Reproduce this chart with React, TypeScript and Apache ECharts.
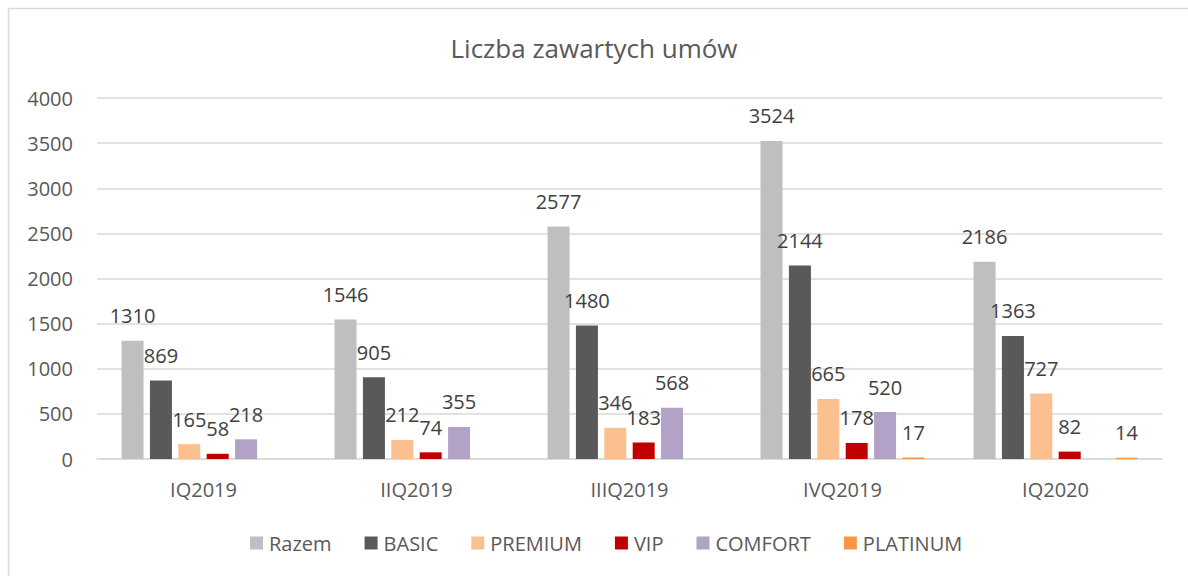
import React, { useEffect, useRef } from "react";
import * as echarts from "echarts";

const categories = ["IQ2019", "IIQ2019", "IIIQ2019", "IVQ2019", "IQ2020"];
const seriesNames = ["Razem", "BASIC", "PREMIUM", "VIP", "COMFORT", "PLATINUM"];
const razem = [1310, 1546, 2577, 3524, 2186];
const basic = [869, 905, 1480, 2144, 1363];
const premium = [165, 212, 346, 665, 727];
const vip = [58, 74, 183, 178, 82];
const comfort = [218, 355, 568, 520, null];
const platinum = [null, null, null, 17, 14];
const yTicks = { min: 0, max: 4000, interval: 500 };
const colors = ["#BFBFBF", "#595959", "#FAC090", "#C00000", "#B3A2C7", "#F79646"];

const FONT = "'Open Sans', 'Noto Sans', sans-serif";

export default function App() {
  const ref = useRef<HTMLDivElement>(null);
  useEffect(() => {
    if (!ref.current) return;
    const chart = echarts.init(ref.current, null, { renderer: "svg" });
    const values = [razem, basic, premium, vip, comfort, platinum];
    chart.setOption({
      animation: false,
      backgroundColor: "#ffffff",
      textStyle: { fontFamily: FONT },
      title: {
        text: "Liczba zawartych umów",
        left: "center",
        top: 30,
        textStyle: { fontFamily: FONT, fontSize: 26, fontWeight: "normal", color: "#595959" },
      },
      graphic: [
        {
          type: "rect",
          shape: { x: 8.5, y: 8.5, width: 1200, height: 600 },
          style: { fill: "none", stroke: "#D9D9D9", lineWidth: 1.5 },
          silent: true,
        },
      ],
      legend: {
        bottom: 18,
        left: 245,
        itemWidth: 13,
        itemHeight: 13,
        itemGap: 33,
        icon: "rect",
        textStyle: { fontFamily: FONT, fontSize: 20, color: "#595959", padding: [0, 0, 0, 1] },
        data: seriesNames,
      },
      grid: { left: 97, right: 26, top: 98, bottom: 117, containLabel: false },
      xAxis: {
        type: "category",
        data: categories,
        axisLine: { lineStyle: { color: "#D9D9D9", width: 1.5 } },
        axisTick: { show: false },
        axisLabel: { fontFamily: FONT, fontSize: 20, color: "#595959", margin: 20 },
      },
      yAxis: {
        type: "value",
        min: yTicks.min,
        max: yTicks.max,
        interval: yTicks.interval,
        axisLine: { show: false },
        axisTick: { show: false },
        splitLine: { lineStyle: { color: "#D9D9D9", width: 1.5 } },
        axisLabel: {
          fontFamily: FONT,
          fontSize: 20,
          color: "#595959",
          margin: 24,
          formatter: (v: number) => String(v),
        },
      },
      series: seriesNames.map((name, i) => ({
        name,
        type: "bar",
        data: values[i],
        barWidth: 22,
        barGap: "29%",
        itemStyle: { color: colors[i] },
        label: {
          show: true,
          position: "top",
          distance: 15,
          fontFamily: FONT,
          fontSize: 20,
          color: "#404040",
        },
      })),
    });
    return () => chart.dispose();
  }, []);
  return (
    <div
      ref={ref}
      style={{ position: "absolute", left: 0, top: 0, width: 1188, height: 576 }}
    />
  );
}
